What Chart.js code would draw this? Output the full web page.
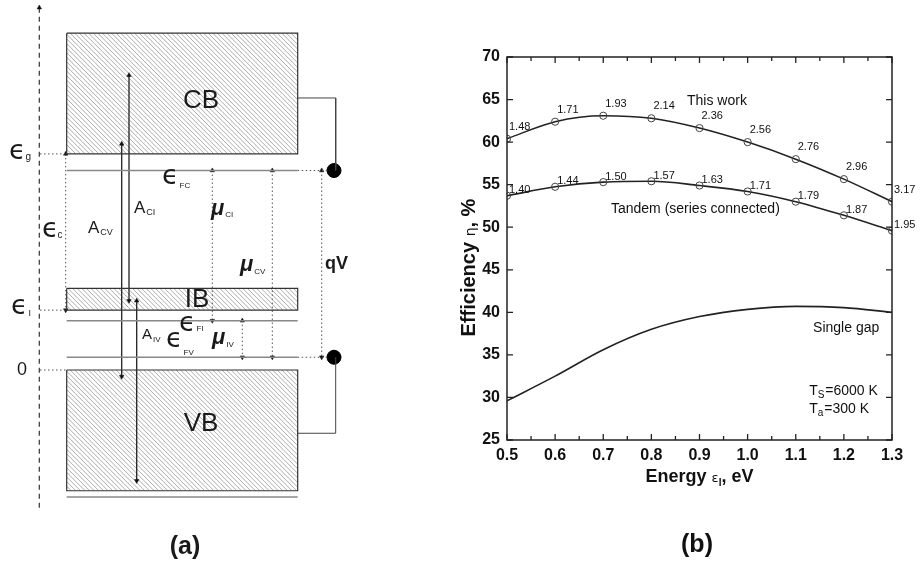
<!DOCTYPE html>
<html>
<head>
<meta charset="utf-8">
<script src="https://cdn.jsdelivr.net/npm/chart.js@4.4.1/dist/chart.umd.min.js"></script>
<style>
  body { margin: 0; background: #fff; }
  #wrap { position: relative; width: 921px; height: 570px; }
  canvas { position: absolute; top: 0; }
  #diagram { left: 0; }
  #showChart { left: 440px; }
</style>
</head>
<body>
<div id="wrap">
  <canvas id="diagram" width="440" height="570"></canvas>
  <canvas id="showChart" width="481" height="570"></canvas>
</div>
<script>
// ---- panel (b) data ----
var energy = [0.5, 0.6, 0.7, 0.8, 0.9, 1.0, 1.1, 1.2, 1.3];
var thisWork = [60.4, 62.4, 63.1, 62.8, 61.65, 60.0, 58.0, 55.65, 53.0];
var tandem = [53.7, 54.75, 55.3, 55.4, 54.9, 54.2, 53.0, 51.4, 49.6];
var singleGap = [29.6, 32.5, 35.6, 38.0, 39.5, 40.35, 40.7, 40.55, 40.0];
var thisWorkGaps = ['1.48', '1.71', '1.93', '2.14', '2.36', '2.56', '2.76', '2.96', '3.17'];
var tandemGaps = ['1.40', '1.44', '1.50', '1.57', '1.63', '1.71', '1.79', '1.87', '1.95'];

// ---- panel (a) levels (eV) ----
var bandNames = ['CB', 'IB', 'VB'];
var bandTop = [3.04, 0.737, 0.0];
var bandBottom = [1.95, 0.54, -1.09];
var eG = 1.95, eI = 0.54, eFC = 1.80, eFI = 0.445, eFV = 0.115;

function pts(xs, ys) {
    return xs.map(function (x, i) { return { x: x, y: ys[i] }; });
}

// ---------- panel (a): band diagram ----------
var bandL = 66.7, bandR = 297.7;

function seg(data, opts) {
    return Object.assign({
        data: data, showLine: true, borderColor: '#222', borderWidth: 1,
        pointRadius: 0, fill: false, tension: 0
    }, opts || {});
}
function arrow(x, y1, y2, opts, ends) {
    ends = ends || [1, 1];
    return seg([{ x: x, y: y1 }, { x: x, y: y2 }], Object.assign({
        pointStyle: 'triangle',
        pointRadius: [ends[0] ? 2.6 : 0, ends[1] ? 2.6 : 0],
        pointRotation: [0, 180],
        pointBackgroundColor: '#111', pointBorderColor: '#111', pointBorderWidth: 0.5
    }, opts || {}));
}
var dotted = { borderDash: [1.5, 2.5], borderColor: '#555' };
var dashed = { borderDash: [5, 4], borderColor: '#333', borderWidth: 1.2 };

var diagSets = [];
bandNames.forEach(function (n, i) {
    diagSets.push(seg(pts([bandL, bandR, bandR, bandL, bandL],
        [bandTop[i], bandTop[i], bandBottom[i], bandBottom[i], bandTop[i]]), { borderColor: '#333', borderWidth: 1.2 }));
});
// quasi fermi levels
[eFC, eFI, eFV, -1.146].forEach(function (e) {
    diagSets.push(seg(pts([bandL, bandR], [e, e]), { borderColor: '#888', borderWidth: 1.5 }));
});
diagSets.push(seg(pts([bandR, 328], [eFC, eFC]), dotted));
diagSets.push(seg(pts([bandR, 328], [eFV, eFV]), dotted));
// energy axis
diagSets.push(arrow(39.3, 3.27, -1.26, dashed, [1, 0]));
[eG, eI, 0].forEach(function (e) {
    diagSets.push(seg(pts([40, bandL], [e, e]), dotted));
});
diagSets.push(arrow(65.7, eG, eI, dotted));
// transitions
diagSets.push(arrow(121.7, 2.04, -0.06, { borderWidth: 1.3 }));
diagSets.push(arrow(129, 2.66, 0.625, { borderWidth: 1.3 }));
diagSets.push(arrow(136.7, 0.625, -1.0, { borderWidth: 1.3 }));
// chemical potentials
diagSets.push(arrow(212.3, eFC, eFI, dotted));
diagSets.push(arrow(242.3, eFI, eFV, dotted));
diagSets.push(arrow(272.3, eFC, eFV, dotted));
diagSets.push(arrow(321.7, eFC, eFV, dotted));
// contacts
diagSets.push(seg(pts([bandR, 335.7, 335.7], [2.455, 2.455, eFC]), { borderColor: '#444' }));
diagSets.push(seg(pts([bandR, 335.7, 335.7], [-0.571, -0.571, eFV]), { borderColor: '#444' }));
diagSets.push({ data: pts([334, 334], [eFC, eFV]), pointRadius: 7, pointBackgroundColor: '#000', pointBorderColor: '#000', showLine: false });

var hatchPlugin = {
    id: 'hatch',
    beforeDatasetsDraw: function (chart) {
        var c = chart.ctx, xs = chart.scales.x, ys = chart.scales.y;
        bandNames.forEach(function (n, i) {
            var x0 = xs.getPixelForValue(bandL), x1 = xs.getPixelForValue(bandR);
            var y0 = ys.getPixelForValue(bandTop[i]), y1 = ys.getPixelForValue(bandBottom[i]);
            c.save();
            c.beginPath(); c.rect(x0, y0, x1 - x0, y1 - y0); c.clip();
            c.strokeStyle = '#8a8a8a'; c.lineWidth = 0.7;
            c.beginPath();
            for (var s = x0 - (y1 - y0); s < x1; s += 4.6) {
                c.moveTo(s, y0); c.lineTo(s + (y1 - y0), y1);
            }
            c.stroke();
            c.restore();
        });
    }
};

function subText(c, x, y, main, sub, mainFont, subFont, dx, dy) {
    c.font = mainFont;
    c.textAlign = 'left'; c.textBaseline = 'middle';
    c.fillText(main, x, y);
    var w = c.measureText(main).width;
    c.font = subFont;
    c.fillText(sub, x + w + (dx || 0), y + (dy || 5));
}

var diagText = {
    id: 'diagText',
    afterDraw: function (chart) {
        var c = chart.ctx;
        c.save();
        c.fillStyle = '#1a1a1a';
        var eps = '27px "DejaVu Sans"', sub = '9px "Liberation Sans"';
        subText(c, 9, 152, 'ϵ', 'g', eps, '10px "Liberation Sans"', 0, 5);
        subText(c, 42, 230, 'ϵ', 'c', eps, '10px "Liberation Sans"', -1, 5);
        subText(c, 11, 307, 'ϵ', 'I', eps, sub, 1, 7);
        c.font = '18px "Liberation Sans"'; c.fillText('0', 17, 370);
        c.font = '26px "Liberation Sans"'; c.textAlign = 'center';
        c.fillText('CB', 201, 101);
        c.fillText('IB', 197, 300);
        c.fillText('VB', 201, 424);
        subText(c, 88, 228, 'A', 'CV', '17px "Liberation Sans"', sub, 1, 5);
        subText(c, 134, 208, 'A', 'CI', '17px "Liberation Sans"', sub, 1, 5);
        subText(c, 142, 335, 'A', 'IV', '15px "Liberation Sans"', '8px "Liberation Sans"', 1, 5);
        subText(c, 162, 177, 'ϵ', 'FC', eps, '8px "Liberation Sans"', 1, 9);
        subText(c, 179, 324, 'ϵ', 'FI', eps, '8px "Liberation Sans"', 1, 5);
        subText(c, 166, 340, 'ϵ', 'FV', eps, '8px "Liberation Sans"', 1, 13);
        var mu = 'bold italic 22px "Liberation Sans"';
        subText(c, 211, 209, 'μ', 'CI', mu, '8px "Liberation Sans"', 1, 6);
        subText(c, 240, 265, 'μ', 'CV', mu, '8px "Liberation Sans"', 1, 7);
        subText(c, 212, 338, 'μ', 'IV', mu, '8px "Liberation Sans"', 1, 7);
        c.font = 'bold 18px "Liberation Sans"'; c.textAlign = 'left';
        c.fillText('qV', 325, 264);
        c.font = 'bold 25px "Liberation Sans"'; c.textAlign = 'center';
        c.fillText('(a)', 185, 547);
        c.restore();
    }
};

new Chart(document.getElementById('diagram'), {
    type: 'scatter',
    data: { datasets: diagSets },
    options: {
        responsive: false, animation: false, events: [],
        layout: { padding: 0, autoPadding: false },
        plugins: { legend: { display: false }, tooltip: { enabled: false } },
        scales: {
            x: { type: 'linear', display: false, min: 0, max: 440 },
            y: { type: 'linear', display: false, min: -1.805, max: 3.339 }
        }
    },
    plugins: [hatchPlugin, diagText]
});

// ---------- panel (b): efficiency chart ----------
var ctx = document.getElementById('showChart').getContext('2d');
var tickFont = { family: 'Liberation Sans', weight: 'bold', size: 16 };

var framePlugin = {
    id: 'frame',
    afterDatasetsDraw: function (chart) {
        var c = chart.ctx, a = chart.chartArea, xs = chart.scales.x, ys = chart.scales.y;
        c.save();
        c.strokeStyle = '#222'; c.lineWidth = 1.5;
        c.strokeRect(a.left, a.top, a.right - a.left, a.bottom - a.top);
        c.lineWidth = 1.3;
        c.beginPath();
        for (var i = 0; i <= 16; i++) {
            var v = 0.5 + i * 0.05, px = xs.getPixelForValue(v), len = i % 2 ? 4 : 6;
            c.moveTo(px, a.bottom); c.lineTo(px, a.bottom - len);
            c.moveTo(px, a.top); c.lineTo(px, a.top + len);
        }
        for (var j = 25; j <= 70; j += 5) {
            var py = ys.getPixelForValue(j);
            c.moveTo(a.left, py); c.lineTo(a.left + 6, py);
            c.moveTo(a.right, py); c.lineTo(a.right - 6, py);
        }
        c.stroke();
        c.restore();
    }
};

var labelPlugin = {
    id: 'gapLabels',
    afterDatasetsDraw: function (chart) {
        var c = chart.ctx, xs = chart.scales.x, ys = chart.scales.y, a = chart.chartArea;
        c.save();
        c.fillStyle = '#111';
        c.textBaseline = 'middle'; c.textAlign = 'left';
        c.font = '11px "Liberation Sans"';
        [[0, thisWorkGaps, -12], [1, tandemGaps, -5.5]].forEach(function (s) {
            chart.getDatasetMeta(s[0]).data.forEach(function (p, i) {
                c.fillText(s[1][i], p.x + 2, p.y + s[2]);
            });
        });
        c.font = '14px "Liberation Sans"';
        c.fillText('This work', xs.getPixelForValue(0.874), ys.getPixelForValue(64.85));
        c.fillText('Tandem (series connected)', xs.getPixelForValue(0.716), ys.getPixelForValue(52.1));
        c.fillText('Single gap', xs.getPixelForValue(1.136), ys.getPixelForValue(38.16));
        subText(c, xs.getPixelForValue(1.128), ys.getPixelForValue(30.76), 'T', 'S', '14px "Liberation Sans"', '10px "Liberation Sans"', 0, 4);
        c.font = '14px "Liberation Sans"';
        c.fillText('=6000 K', xs.getPixelForValue(1.128) + 16, ys.getPixelForValue(30.76));
        subText(c, xs.getPixelForValue(1.128), ys.getPixelForValue(28.64), 'T', 'a', '14px "Liberation Sans"', '10px "Liberation Sans"', 0, 4);
        c.font = '14px "Liberation Sans"';
        c.fillText('=300 K', xs.getPixelForValue(1.128) + 15, ys.getPixelForValue(28.64));

        // axis titles
        var cx = (a.left + a.right) / 2;
        var parts = [['Energy ', 'bold 18px "Liberation Sans"', 0], ['ε', '13px "DejaVu Sans"', 2], ['I', 'bold 10px "Liberation Sans"', 6], [', eV', 'bold 18px "Liberation Sans"', 0]];
        drawParts(c, parts, cx, 477);
        c.save();
        c.translate(29, (a.top + a.bottom) / 2 + 19);
        c.rotate(-Math.PI / 2);
        drawParts(c, [['Efficiency ', 'bold 20px "Liberation Sans"', 0], ['η', '14px "DejaVu Sans"', 2], [', %', 'bold 20px "Liberation Sans"', 0]], 0, 0);
        c.restore();
        c.font = 'bold 25px "Liberation Sans"'; c.textAlign = 'center';
        c.fillText('(b)', 257, 545);
        c.restore();
    }
};

function drawParts(c, parts, cx, cy) {
    var total = 0;
    parts.forEach(function (p) { c.font = p[1]; total += c.measureText(p[0]).width; });
    var x = cx - total / 2;
    c.textAlign = 'left'; c.textBaseline = 'middle';
    parts.forEach(function (p) {
        c.font = p[1]; c.fillText(p[0], x, cy + p[2]);
        x += c.measureText(p[0]).width;
    });
}

var showChart = new Chart(ctx, {
    type: 'line',
    data: {
        datasets: [
            {
                label: 'This work', data: pts(energy, thisWork),
                borderColor: '#222', borderWidth: 1.6, cubicInterpolationMode: 'monotone',
                pointStyle: 'circle', pointRadius: 3.6, pointBorderWidth: 1,
                pointBorderColor: '#444', pointBackgroundColor: 'rgba(0,0,0,0)'
            },
            {
                label: 'Tandem (series connected)', data: pts(energy, tandem),
                borderColor: '#222', borderWidth: 1.6, cubicInterpolationMode: 'monotone',
                pointStyle: 'circle', pointRadius: 3.6, pointBorderWidth: 1,
                pointBorderColor: '#444', pointBackgroundColor: 'rgba(0,0,0,0)'
            },
            {
                label: 'Single gap', data: pts(energy, singleGap),
                borderColor: '#222', borderWidth: 1.6, cubicInterpolationMode: 'monotone', pointRadius: 0
            }
        ]
    },
    options: {
        responsive: false, animation: false, events: [],
        layout: { padding: { left: 0, top: 57, right: 29, bottom: 0 }, autoPadding: false },
        plugins: { legend: { display: false }, tooltip: { enabled: false } },
        scales: {
            x: {
                type: 'linear', min: 0.5, max: 1.3,
                grid: { display: false, drawTicks: false }, border: { display: false },
                ticks: {
                    stepSize: 0.1, autoSkip: false, maxRotation: 0, padding: 6,
                    font: tickFont, color: '#111',
                    callback: function (v) { return v.toFixed(1); }
                },
                afterFit: function (s) { s.height = 130; }
            },
            y: {
                min: 25, max: 70,
                grid: { display: false, drawTicks: false }, border: { display: false },
                ticks: { stepSize: 5, padding: 7, font: tickFont, color: '#111' },
                afterFit: function (s) { s.width = 67; }
            }
        }
    },
    plugins: [framePlugin, labelPlugin]
});
</script>
</body>
</html>
